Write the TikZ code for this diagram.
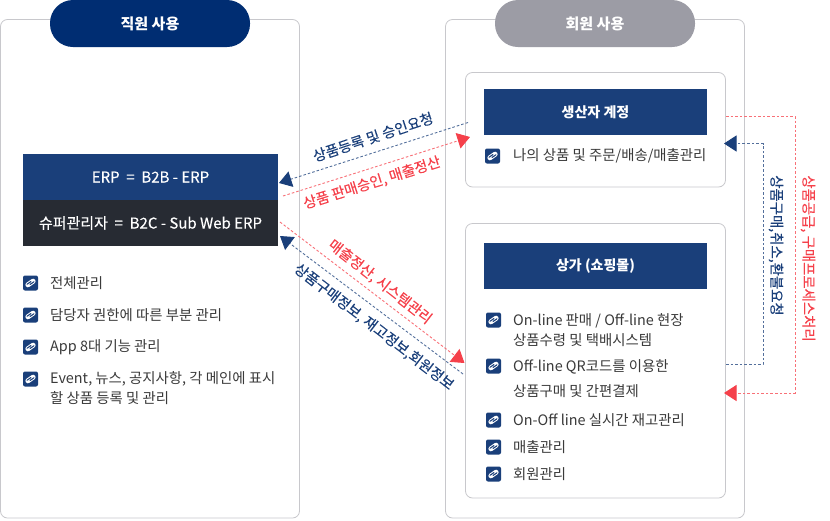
\documentclass[tikz,border=0pt]{standalone}
\usepackage{fontspec}
\setmainfont{Noto Sans CJK KR}
\newfontfamily\medf[FakeBold=0.25]{Noto Sans CJK KR}
\usetikzlibrary{arrows.meta}
\definecolor{navy}{HTML}{002D72}
\definecolor{blu}{HTML}{1A3F7A}
\definecolor{dark}{HTML}{272B33}
\definecolor{gry}{HTML}{9C9CA5}
\definecolor{redc}{HTML}{F5404A}
\definecolor{bdr}{HTML}{C8C8CC}
\definecolor{txt}{HTML}{3A3A3A}
\tikzset{
 panel/.style={draw=bdr,line width=.8pt,fill=white,rounded corners=7pt},
 pill/.style={rounded corners=23pt,minimum width=200pt,minimum height=47pt,inner sep=0pt,text=white,font=\fontsize{15}{17}\selectfont\bfseries},
 hdr/.style={fill=blu,minimum width=223pt,minimum height=46pt,inner sep=0pt,text=white,font=\fontsize{14}{16}\selectfont\bfseries},
 erp/.style={minimum width=255pt,minimum height=46pt,inner sep=0pt,text=white,font=\fontsize{15}{16}\medf},
 bul/.style={fill=blu,rounded corners=2pt,minimum size=15pt,inner sep=0pt,path picture={
   \begin{scope}[shift={(path picture bounding box.center)},x=1pt,y=1pt]
   \draw[white,line width=5pt,line cap=round] (-2.6,-1.8) -- (2.6,1.8);
   \draw[blu,line width=1.1pt,line cap=round] (-3.4,-1.2) -- (.4,1.4);
   \draw[blu,line width=1.1pt,line cap=round] (-.4,-1.4) -- (3.4,1.2);
   \end{scope}}},
 item/.style={anchor=west,inner sep=0pt,text=txt,align=left,font=\fontsize{14.4}{20}\selectfont},
 dbl/.style={blu!75,line width=.9pt,dash pattern=on 2.6pt off 2pt,-{Triangle[length=12.5pt,width=16pt,color=blu,fill=blu]}},
 drd/.style={redc!75,line width=.9pt,dash pattern=on 2.6pt off 2pt,-{Triangle[length=12.5pt,width=16pt,color=redc,fill=redc]}},
 lbb/.style={text=blu,inner sep=0pt,font=\fontsize{14.4}{16}\medf},
 lbr/.style={text=redc,inner sep=0pt,font=\fontsize{14.4}{16}\medf},
}
\begin{document}
\begin{tikzpicture}[x=1pt,y=-1pt]
\useasboundingbox (0,0) rectangle (830,520);
% panels
\draw[panel] (0.5,19.5) rectangle (299.5,518);
\draw[panel] (445.5,19.5) rectangle (744.5,518);
\node[pill,fill=navy] (staff) at (150,23.5) {직원 사용};
\node[pill,fill=gry] (member) at (595,23.5) {회원 사용};
\draw[panel] (465.5,72.5) rectangle (725.5,187);
\draw[panel] (465.5,223.5) rectangle (725.5,498);
% ERP
\node[erp,fill=blu] (erp) at (150.5,177) {ERP \ = \ B2B - ERP};
\node[erp,fill=dark] (super) at (150.5,223) {슈퍼관리자 \ = \ B2C - Sub Web ERP};
\node[hdr] (prod) at (595.5,112) {생산자 계정};
\node[hdr] (shop) at (595.5,266) {상가 (쇼핑몰)};
% left list
\node[bul] (l1) at (30.5,283) {}; \node[item] (lt1) at (50,283) {전체관리};
\node[bul] (l2) at (30.5,315) {}; \node[item] (lt2) at (50,315) {담당자 권한에 따른 부분 관리};
\node[bul] (l3) at (30.5,347) {}; \node[item] (lt3) at (50,347) {App 8대 기능 관리};
\node[bul] (l4) at (30.5,379) {};
\node[item] (lt4) at (50,388.5) {Event, 뉴스, 공지사항, 각 메인에 표시\\할 상품 등록 및 관리};
% producer
\node[bul] (p1) at (492.5,156) {}; \node[item] (pt1) at (513,156) {나의 상품 및 주문/배송/매출관리};
% shop list
\node[bul] (s1) at (493.5,320) {};
\node[item] (st1) at (513,330) {On-line 판매 / Off-line 현장\\상품수령 및 택배시스템};
\node[bul] (s2) at (493.5,366) {};
\node[item,font=\fontsize{14.4}{25}\selectfont] (st2) at (513,378.5) {Off-line QR코드를 이용한\\상품구매 및 간편결제};
\node[bul] (s3) at (493.5,420) {}; \node[item] (st3) at (513,420) {On-Off line 실시간 재고관리};
\node[bul] (s4) at (493.5,447) {}; \node[item] (st4) at (513,447) {매출관리};
\node[bul] (s5) at (493.5,474) {}; \node[item] (st5) at (513,474) {회원관리};
% connector ends
\coordinate (a1) at (468,122.5); \coordinate (a2) at (279,183);
\coordinate (b1) at (283,196); \coordinate (b2) at (470,137);
\coordinate (c1) at (280,222); \coordinate (c2) at (464.5,363);
\coordinate (d1) at (463,374); \coordinate (d2) at (280,236);
\coordinate (e1) at (726,116); \coordinate (e2) at (795,116); \coordinate (e3) at (795,393); \coordinate (e4) at (724,393);
\coordinate (f1) at (726,364.5); \coordinate (f2) at (763,364.5); \coordinate (f3) at (763,143.5); \coordinate (f4) at (724,143.5);
\draw[dbl] (a1) -- (a2);
\draw[drd] (b1) -- (b2);
\draw[drd] (c1) -- (c2);
\draw[dbl] (d1) -- (d2);
\draw[drd] (e1) -- (e2) -- (e3) -- (e4);
\draw[dbl] (f1) -- (f2) -- (f3) -- (f4);
% labels
\node[lbb,rotate=18.3] (la) at (373,137) {상품등록 및 승인요청};
\node[lbr,rotate=17.5] (lb) at (372,183) {상품 판매승인, 매출정산};
\node[lbr,rotate=-38] (lc) at (380,282) {매출정산, 시스템관리};
\node[lbb,rotate=-37.5] (ld) at (374,327) {상품구매정보, 재고정보,회원정보};
\node[lbb,rotate=-90] (lf) at (776,245.5) {상품구매,취소,환불요청};
\node[lbr,rotate=-90] (le) at (808,258.5) {상품공급, 구매프로세스처리};
\end{tikzpicture}
\end{document}
